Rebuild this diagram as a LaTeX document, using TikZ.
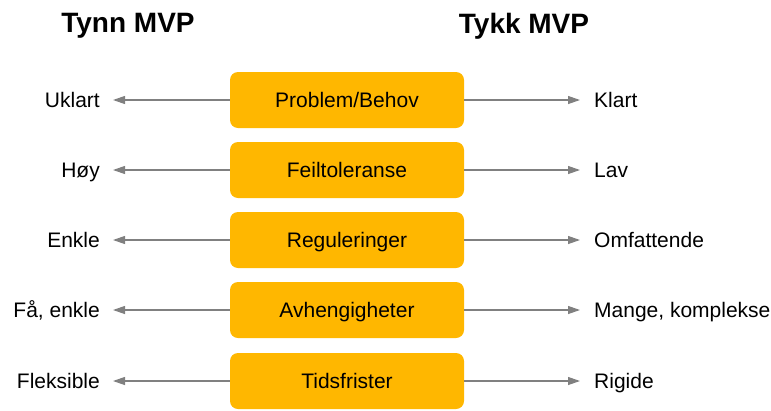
\documentclass[tikz,border=0pt]{standalone}
\usepackage{fontspec}
\setmainfont{Liberation Sans}
\usetikzlibrary{arrows.meta}

\definecolor{boxorange}{RGB}{255,183,0}
\definecolor{arrowgray}{RGB}{128,128,128}

\tikzset{
  factor/.style={draw=none, fill=boxorange, rounded corners=8pt,
    minimum width=234pt, minimum height=56pt, text height=15pt, text depth=0pt,
    font=\fontsize{21}{25}\selectfont},
  side/.style={inner sep=0pt, text height=15pt, text depth=0pt,
    font=\fontsize{21}{25}\selectfont},
  heading/.style={font=\bfseries\fontsize{28}{33}\selectfont},
  pointer/.style={draw=arrowgray, line width=1.2pt,
    -{Triangle[length=12pt,width=8pt]}}
}

\begin{document}
\begin{tikzpicture}[x=1pt, y=-1pt]
  \useasboundingbox (0,0) rectangle (771,410);

  \node[heading] (thin) at (128,26) {Tynn MVP};
  \node[heading] (thick) at (524,26) {Tykk MVP};

  \foreach \n/\y/\mid/\lo/\hi in {
      1/100/Problem\slash Behov/Uklart/Klart,
      2/170/Feiltoleranse/Høy/Lav,
      3/240/Reguleringer/Enkle/Omfattende,
      4/310/Avhengigheter/{Få, enkle}/{Mange, komplekse},
      5/381/Tidsfrister/Fleksible/Rigide} {
    \node[factor] (box\n) at (347,\y) {\mid};
    \node[side, anchor=east] (lo\n) at (100,\y) {\lo};
    \node[side, anchor=west] (hi\n) at (594,\y) {\hi};
    % arrows out to both ends of the scale
    \draw[pointer, shorten >=13pt] (box\n.west) -- (lo\n.east);
    \draw[pointer, shorten >=14pt] (box\n.east) -- (hi\n.west);
  }

\end{tikzpicture}
\end{document}
